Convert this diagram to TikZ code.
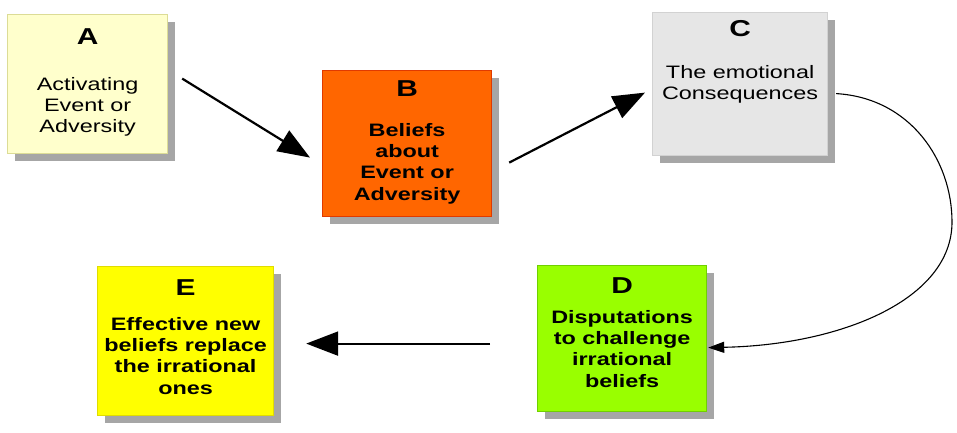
\documentclass[tikz,border=0pt]{standalone}
\usepackage{fontspec}
\newfontfamily\boxfont{Liberation Sans}[FakeStretch=1.3]
\usetikzlibrary{arrows.meta,shadows,calc}
\definecolor{afill}{HTML}{FFFFCC}
\definecolor{aline}{HTML}{DCDC96}
\definecolor{bfill}{HTML}{FF6600}
\definecolor{bline}{HTML}{E03A00}
\definecolor{cfill}{HTML}{E6E6E6}
\definecolor{cline}{HTML}{D2D2D2}
\definecolor{dfill}{HTML}{99FF00}
\definecolor{dline}{HTML}{70D000}
\definecolor{efill}{HTML}{FFFF00}
\definecolor{eline}{HTML}{E0DC00}
\definecolor{shadowgray}{HTML}{A6A6A6}
\tikzset{
  box/.style={rectangle, inner sep=0pt, anchor=north west, line width=1.2pt,
    drop shadow={shadow xshift=7pt, shadow yshift=-7pt, fill=shadowgray, opacity=1}},
  boxtitle/.style={anchor=base, inner sep=0pt, font={\boxfont\bfseries\fontsize{23}{26}\selectfont}},
  boxbody/.style={anchor=north, inner sep=0pt, align=center, font={\boxfont\fontsize{18}{21}\selectfont}},
  boxbodybold/.style={boxbody, font={\boxfont\bfseries\fontsize{18}{21.3}\selectfont}},
  bigarrow/.style={line width=2.2pt, -{Triangle[length=32pt,width=24pt]}},
  thinarrow/.style={line width=1.1pt, -{Triangle[length=16pt,width=11pt]}}
}
\begin{document}
\begin{tikzpicture}[x=1pt,y=-1pt]
\useasboundingbox (0,0) rectangle (957,433);
% boxes
\node[box, fill=afill, draw=aline, minimum width=160pt, minimum height=139pt] (A) at (7,14) {};
\node[box, fill=bfill, draw=bline, minimum width=169pt, minimum height=146pt] (B) at (322,70) {};
\node[box, fill=cfill, draw=cline, minimum width=175pt, minimum height=143pt] (C) at (652,12) {};
\node[box, fill=dfill, draw=dline, minimum width=169pt, minimum height=146pt] (D) at (537,265) {};
\node[box, fill=efill, draw=eline, minimum width=176pt, minimum height=149pt] (E) at (97,266) {};
% titles
\node[boxtitle] (At) at ($(A.north)+(0,31)$) {A};
\node[boxtitle] (Bt) at ($(B.north)+(0,26)$) {B};
\node[boxtitle] (Ct) at ($(C.north)+(0,25)$) {C};
\node[boxtitle] (Dt) at ($(D.north)+(0,28)$) {D};
\node[boxtitle] (Et) at ($(E.north)+(0,29)$) {E};
% bodies
\node[boxbody] (Ab) at ($(A.north)+(0,63)$) {Activating\\Event or\\Adversity};
\node[boxbodybold] (Bb) at ($(B.north)+(0,53)$) {Beliefs\\about\\Event or\\Adversity};
\node[boxbody] (Cb) at ($(C.north)+(0,53)$) {The emotional\\Consequences};
\node[boxbodybold] (Db) at ($(D.north)+(0,45)$) {Disputations\\to challenge\\irrational\\beliefs};
\node[boxbodybold] (Eb) at ($(E.north)+(0,51)$) {Effective new\\beliefs replace\\the irrational\\ones};
% connectors
\draw[bigarrow] ($(A.east)+(14,-5.5)$) -- ($(B.west)+(-12,14)$);
\draw[bigarrow] ($(B.east)+(17,19)$) -- ($(C.west)+(-7,8.5)$);
\draw[bigarrow] ($(D.west)+(-47,5)$) -- ($(E.east)+(32,2.5)$);
\coordinate (Cout) at ($(C.east)+(8,9.5)$);
\coordinate (Din) at ($(D.east)+(1,9)$);
\coordinate (R) at (952,222);
\draw[thinarrow] (Cout) .. controls (910,98) and (952,160) .. (R)
  .. controls (952,300) and (840,345) .. (Din);
\end{tikzpicture}
\end{document}
